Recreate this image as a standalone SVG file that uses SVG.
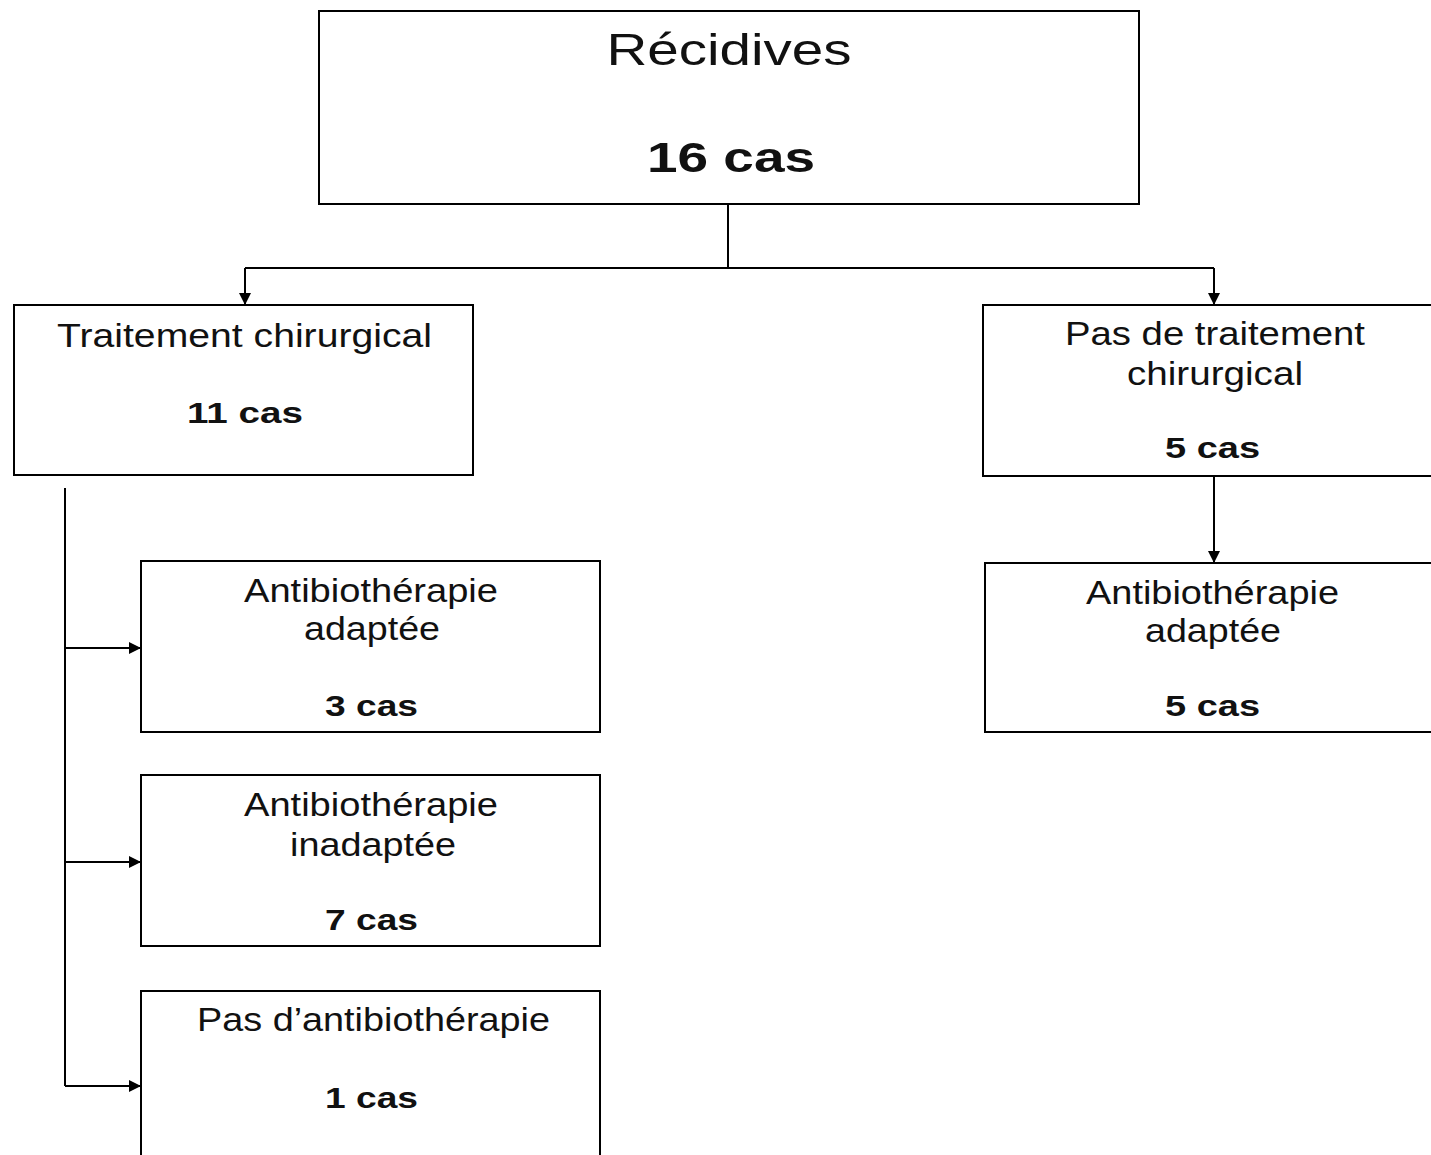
<svg xmlns="http://www.w3.org/2000/svg" width="1431" height="1155" viewBox="0 0 1431 1155">
<defs>
<marker id="arr" viewBox="0 0 12 12" refX="12" refY="6" markerWidth="12" markerHeight="12" markerUnits="userSpaceOnUse" orient="auto">
<path d="M0,0 L12,6 L0,12 Z" fill="#000"/>
</marker>
</defs>
<style>
.box{fill:#fff;stroke:#000;stroke-width:2}
.t{font-family:"Liberation Sans",Arial,sans-serif;font-size:34px;fill:#111;text-anchor:middle}
.b{font-family:"Liberation Sans",Arial,sans-serif;font-size:30px;font-weight:bold;fill:#111;text-anchor:middle}
.c{fill:none;stroke:#000;stroke-width:2}
</style>
<rect width="1431" height="1155" fill="#fff"/>
<g id="connectors">
<path class="c" d="M728,204 V268"/>
<path class="c" d="M245,268 H1214"/>
<path class="c" d="M245,268 V305" marker-end="url(#arr)"/>
<path class="c" d="M1214,268 V305" marker-end="url(#arr)"/>
<path class="c" d="M1214,476 V563" marker-end="url(#arr)"/>
<path class="c" d="M65,488 V1086"/>
<path class="c" d="M65,648 H141" marker-end="url(#arr)"/>
<path class="c" d="M65,862 H141" marker-end="url(#arr)"/>
<path class="c" d="M65,1086 H141" marker-end="url(#arr)"/>
</g>
<g id="recidives">
<rect class="box" x="319" y="11" width="820" height="193"/>
<text class="t" x="729" y="65" style="font-size:45px" textLength="245" lengthAdjust="spacingAndGlyphs">Récidives</text>
<text class="b" x="731" y="172" style="font-size:42px" textLength="168" lengthAdjust="spacingAndGlyphs">16 cas</text>
</g>
<g id="chir">
<rect class="box" x="14" y="305" width="459" height="170"/>
<text class="t" x="244.5" y="347" textLength="375" lengthAdjust="spacingAndGlyphs">Traitement chirurgical</text>
<text class="b" x="245" y="423" textLength="116" lengthAdjust="spacingAndGlyphs">11 cas</text>
</g>
<g id="pas-chir">
<rect class="box" x="983" y="305" width="460" height="171"/>
<text class="t" x="1215" y="345" textLength="300" lengthAdjust="spacingAndGlyphs">Pas de traitement</text>
<text class="t" x="1215" y="385" textLength="176" lengthAdjust="spacingAndGlyphs">chirurgical</text>
<text class="b" x="1212.5" y="458" textLength="95" lengthAdjust="spacingAndGlyphs">5 cas</text>
</g>
<g id="ab-adaptee-right">
<rect class="box" x="985" y="563" width="460" height="169"/>
<text class="t" x="1212.5" y="604" textLength="253" lengthAdjust="spacingAndGlyphs">Antibiothérapie</text>
<text class="t" x="1213" y="642" textLength="136" lengthAdjust="spacingAndGlyphs">adaptée</text>
<text class="b" x="1212.5" y="716" textLength="95" lengthAdjust="spacingAndGlyphs">5 cas</text>
</g>
<g id="ab-adaptee">
<rect class="box" x="141" y="561" width="459" height="171"/>
<text class="t" x="371" y="602" textLength="254" lengthAdjust="spacingAndGlyphs">Antibiothérapie</text>
<text class="t" x="372" y="640" textLength="136" lengthAdjust="spacingAndGlyphs">adaptée</text>
<text class="b" x="371.5" y="716" textLength="93" lengthAdjust="spacingAndGlyphs">3 cas</text>
</g>
<g id="ab-inadaptee">
<rect class="box" x="141" y="775" width="459" height="171"/>
<text class="t" x="371" y="816" textLength="254" lengthAdjust="spacingAndGlyphs">Antibiothérapie</text>
<text class="t" x="373" y="856" textLength="166" lengthAdjust="spacingAndGlyphs">inadaptée</text>
<text class="b" x="371.5" y="930" textLength="93" lengthAdjust="spacingAndGlyphs">7 cas</text>
</g>
<g id="pas-ab">
<rect class="box" x="141" y="991" width="459" height="180"/>
<text class="t" x="373.5" y="1031" textLength="353" lengthAdjust="spacingAndGlyphs">Pas d’antibiothérapie</text>
<text class="b" x="371.5" y="1108" textLength="93" lengthAdjust="spacingAndGlyphs">1 cas</text>
</g>
</svg>
